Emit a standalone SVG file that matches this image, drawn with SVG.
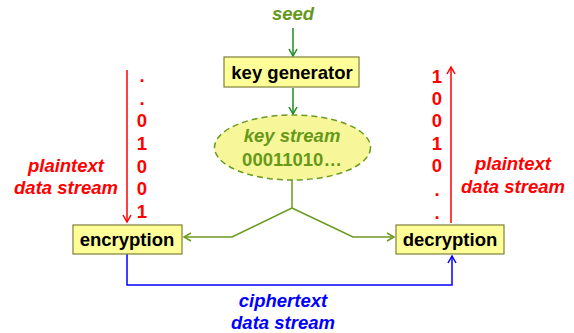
<svg xmlns="http://www.w3.org/2000/svg" width="574" height="333" viewBox="0 0 574 333">
<style>
text{font-family:"Liberation Sans",Arial,sans-serif;font-weight:bold;font-size:18.5px;text-anchor:middle}
.it{font-style:italic}
.box{fill:#ffff99;stroke:#7f7f3a;stroke-width:1.2}
.red{fill:#ff0000}
.blue{fill:#0000ff}
.olive{fill:#66991a}
.lr{fill:none;stroke:#ff0000;stroke-width:1.5}
.lb{fill:none;stroke:#0000ff;stroke-width:1.5}
.lg{fill:none;stroke:#1e8c1e;stroke-width:1.5}
.lo{fill:none;stroke:#6b9a1f;stroke-width:1.5}
</style>
<defs>
<marker id="ar" viewBox="0 0 10 10" refX="8" refY="5" markerWidth="10" markerHeight="10" markerUnits="userSpaceOnUse" orient="auto"><path d="M1,1 L8,5 L1,9" fill="none" stroke="#ff0000" stroke-width="1.5"/></marker>
<marker id="ab" viewBox="0 0 10 10" refX="8" refY="5" markerWidth="10" markerHeight="10" markerUnits="userSpaceOnUse" orient="auto"><path d="M1,1 L8,5 L1,9" fill="none" stroke="#0000ff" stroke-width="1.5"/></marker>
<marker id="ag" viewBox="0 0 10 10" refX="8" refY="5" markerWidth="10" markerHeight="10" markerUnits="userSpaceOnUse" orient="auto"><path d="M1,1 L8,5 L1,9" fill="none" stroke="#1e8c1e" stroke-width="1.5"/></marker>
<marker id="ao" viewBox="0 0 10 10" refX="8" refY="5" markerWidth="10" markerHeight="10" markerUnits="userSpaceOnUse" orient="auto"><path d="M1,1 L8,5 L1,9" fill="none" stroke="#6b9a1f" stroke-width="1.5"/></marker>
</defs>

<g id="connectors">
<line class="lg" x1="293" y1="28" x2="293" y2="56" marker-end="url(#ag)"/>
<line class="lg" x1="293" y1="88" x2="293" y2="114" marker-end="url(#ag)"/>
<path class="lo" d="M292,180 L292,208 L232,237 L184,237" marker-end="url(#ao)"/>
<path class="lo" d="M292,208 L353,237 L394,237" marker-end="url(#ao)"/>
<line class="lr" x1="127" y1="70" x2="127" y2="222" marker-end="url(#ar)"/>
<line class="lr" x1="451" y1="223" x2="451" y2="67" marker-end="url(#ar)"/>
<path class="lb" d="M127,254 L127,285 L452,285 L452,256" marker-end="url(#ab)"/>
</g>

<g id="seed"><text class="it olive" x="293" y="20">seed</text></g>

<g id="keygen">
<rect class="box" x="224" y="57" width="135" height="30"/>
<text x="292" y="79">key generator</text>
</g>

<g id="keystream">
<ellipse cx="292.5" cy="147.5" rx="78" ry="32.5" fill="#f7f79a" stroke="#6b9a1f" stroke-width="1.5" stroke-dasharray="6,4"/>
<text class="it olive" x="292" y="142">key stream</text>
<text class="olive" x="292" y="166">00011010…</text>
</g>

<g id="encryption">
<rect class="box" x="73" y="225" width="109" height="29"/>
<text x="127" y="246">encryption</text>
</g>

<g id="decryption">
<rect class="box" x="396" y="225" width="108" height="29"/>
<text x="450" y="246">decryption</text>
</g>

<g id="plain-left">
<text class="red" x="142" y="82">.</text>
<text class="red" x="142" y="105">.</text>
<text class="red" x="142" y="127">0</text>
<text class="red" x="142" y="150">1</text>
<text class="red" x="142" y="173">0</text>
<text class="red" x="142" y="195">0</text>
<text class="red" x="142" y="218">1</text>
<text class="it red" x="66" y="172">plaintext</text>
<text class="it red" x="66" y="194">data stream</text>
</g>

<g id="plain-right">
<text class="red" x="437" y="83">1</text>
<text class="red" x="437" y="105">0</text>
<text class="red" x="437" y="127">0</text>
<text class="red" x="437" y="150">1</text>
<text class="red" x="437" y="172">0</text>
<text class="red" x="437" y="196">.</text>
<text class="red" x="437" y="219">.</text>
<text class="it red" x="513" y="170">plaintext</text>
<text class="it red" x="513" y="193">data stream</text>
</g>

<g id="cipher">
<text class="it blue" x="283" y="307">ciphertext</text>
<text class="it blue" x="283" y="329">data stream</text>
</g>
</svg>
